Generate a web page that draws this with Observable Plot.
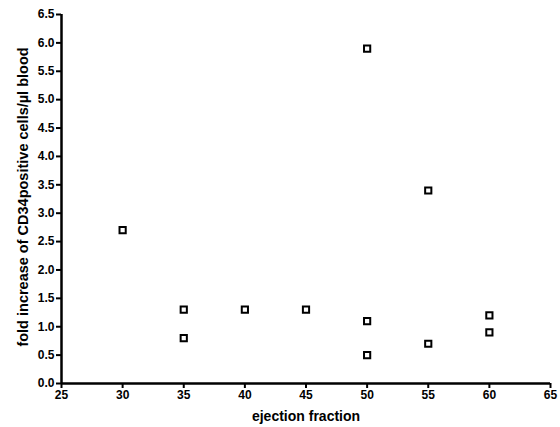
<!DOCTYPE html>
<html>
<head>
<meta charset="utf-8">
<script src="https://cdn.jsdelivr.net/npm/d3@7"></script>
<script src="https://cdn.jsdelivr.net/npm/@observablehq/plot@0.6"></script>
<style>
  body { margin: 0; background: #fff; }
  svg { font-family: "Liberation Sans", Arial, sans-serif; }
</style>
</head>
<body>
<div id="chart"></div>
<script>
const ejectionFraction = [30, 35, 35, 40, 45, 50, 50, 50, 55, 55, 60, 60];
const foldIncrease = [2.7, 1.3, 0.8, 1.3, 1.3, 5.9, 1.1, 0.5, 3.4, 0.7, 1.2, 0.9];
const xTicks = [25, 30, 35, 40, 45, 50, 55, 60, 65];
const yTicks = [0, 0.5, 1, 1.5, 2, 2.5, 3, 3.5, 4, 4.5, 5, 5.5, 6, 6.5];

const data = ejectionFraction.map((x, i) => ({x, y: foldIncrease[i]}));

const chart = Plot.plot({
  width: 560,
  height: 427,
  marginLeft: 61,
  marginRight: 10,
  marginTop: 14,
  marginBottom: 44,
  style: {fontFamily: "'Liberation Sans', Arial, sans-serif", fontWeight: "bold", fontSize: "12px", color: "#000"},
  x: {domain: [25, 65]},
  y: {domain: [0, 6.5]},
  marks: [
    Plot.axisX({ticks: xTicks, tickSize: 5, tickPadding: 2, strokeWidth: 2, tickFormat: d => d3.format("d")(d), fontSize: 12, fontWeight: "bold", label: null, fill: "#000"}),
    Plot.axisY({ticks: yTicks, tickSize: 5, tickPadding: 2, strokeWidth: 2, tickFormat: d => d.toFixed(1), fontSize: 12, fontWeight: "bold", label: null, fill: "#000"}),
    Plot.text(["ejection fraction"], {frameAnchor: "bottom", dy: 37, fontSize: 14, fontWeight: "bold", fill: "#000"}),
    Plot.text(["fold increase of CD34positive cells/µl blood"], {frameAnchor: "left", textAnchor: "middle", dy: -2, dx: -38, rotate: -90, fontSize: 14.5, fontWeight: "bold", fill: "#000"}),
    Plot.ruleY([0], {stroke: "#000", strokeWidth: 2.5}),
    Plot.ruleX([25], {stroke: "#000", strokeWidth: 2.5}),
    Plot.dot(data, {x: "x", y: "y", symbol: "square", r: 3.5, fill: "#fff", stroke: "#000", strokeWidth: 2})
  ]
});
document.getElementById("chart").appendChild(chart);
</script>
</body>
</html>
